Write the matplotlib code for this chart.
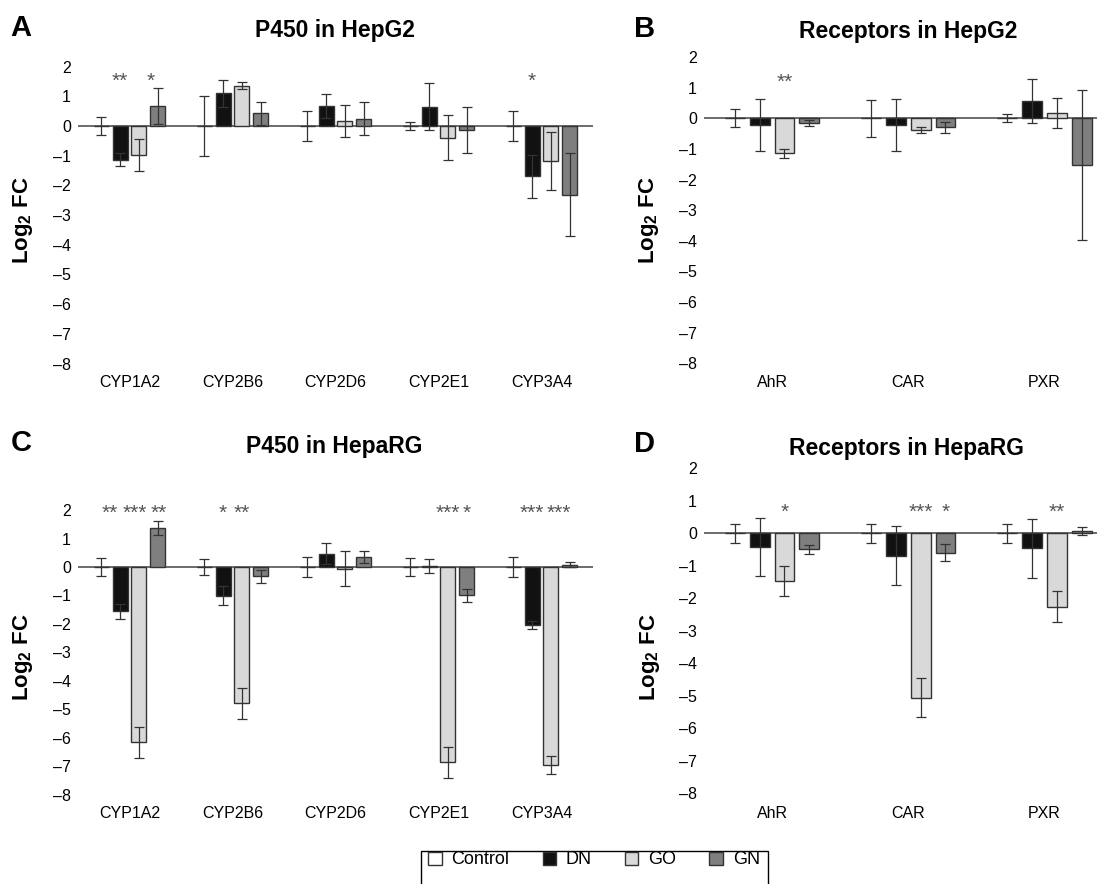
import numpy as np
import matplotlib
matplotlib.use("Agg")
import matplotlib.pyplot as plt
from matplotlib.patches import Patch, Rectangle

plt.rcParams['font.family'] = ['Liberation Sans', 'DejaVu Sans']
plt.rcParams['mathtext.fontset'] = 'custom'
plt.rcParams['mathtext.rm'] = 'Liberation Sans'
plt.rcParams['mathtext.bf'] = 'Liberation Sans:bold'

# categories and series
p450 = ['CYP1A2', 'CYP2B6', 'CYP2D6', 'CYP2E1', 'CYP3A4']
receptors = ['AhR', 'CAR', 'PXR']
series = ['Control', 'DN', 'GO', 'GN']
colors = ['#ffffff', '#111111', '#d9d9d9', '#7f7f7f']

# A : P450 in HepG2 (log2 FC, error)
a_ctrl_err = [0.30, 1.00, 0.52, 0.13, 0.51]
a_dn = [-1.14, 1.10, 0.68, 0.65, -1.70]
a_dn_err = [0.22, 0.45, 0.40, 0.80, 0.73]
a_go = [-0.98, 1.36, 0.17, -0.39, -1.19]
a_go_err = [0.55, 0.13, 0.54, 0.77, 0.98]
a_gn = [0.68, 0.43, 0.25, -0.13, -2.32]
a_gn_err = [0.60, 0.38, 0.56, 0.78, 1.40]

# B : receptors in HepG2
b_ctrl_err = [0.29, 0.61, 0.13]
b_dn = [-0.23, -0.23, 0.57]
b_dn_err = [0.85, 0.85, 0.72]
b_go = [-1.14, -0.38, 0.16]
b_go_err = [0.14, 0.11, 0.49]
b_gn = [-0.15, -0.29, -1.52]
b_gn_err = [0.10, 0.18, 2.45]

# C : P450 in HepaRG
c_ctrl_err = [0.32, 0.28, 0.34, 0.32, 0.35]
c_dn = [-1.55, -1.01, 0.46, 0.03, -2.05]
c_dn_err = [0.26, 0.33, 0.37, 0.24, 0.14]
c_go = [-6.15, -4.78, -0.06, -6.85, -6.95]
c_go_err = [0.54, 0.54, 0.61, 0.54, 0.32]
c_gn = [1.38, -0.32, 0.35, -0.99, 0.08]
c_gn_err = [0.25, 0.23, 0.22, 0.23, 0.08]

# D : receptors in HepaRG
d_ctrl_err = [0.30, 0.30, 0.29]
d_dn = [-0.42, -0.68, -0.46]
d_dn_err = [0.90, 0.92, 0.92]
d_go = [-1.46, -5.05, -2.25]
d_go_err = [0.47, 0.60, 0.48]
d_gn = [-0.49, -0.59, 0.08]
d_gn_err = [0.14, 0.26, 0.13]

# significance marks : (category, series, text, nudge in bar slots)
a_stars = [(0, 1, '**', 0), (0, 3, '*', -0.35), (4, 1, '*', 0)]
b_stars = [(0, 2, '**', 0)]
c_stars = [(0, 1, '**', -0.55), (0, 2, '***', -0.2), (0, 3, '**', 0.05),
           (1, 1, '*', 0), (1, 2, '**', 0),
           (3, 2, '***', 0), (3, 3, '*', 0),
           (4, 1, '***', 0), (4, 2, '***', 0.4)]
d_stars = [(0, 2, '*', 0), (1, 2, '***', 0), (1, 3, '*', 0), (2, 2, '**', 0)]

W, H = 1097, 884
SLOT = 0.182
BAR_W = 0.145

fig = plt.figure(figsize=(W / 100, H / 100), dpi=100)


def px_axes(x0, x1, y_top, y_bot):
    return fig.add_axes([x0 / W, 1 - y_bot / H, (x1 - x0) / W, (y_bot - y_top) / H])


def draw_panel(ax, cats, ctrl_err, dn, dn_err, go, go_err, gn, gn_err, stars, star_y):
    x = np.arange(len(cats))
    vals = [np.zeros(len(cats)), dn, go, gn]
    errs = [ctrl_err, dn_err, go_err, gn_err]
    ax.axhline(0, color='#444444', lw=1.1, zorder=1)
    for j in range(4):
        pos = x + (j - 1.5) * SLOT
        ax.bar(pos, vals[j], width=BAR_W, color=colors[j], edgecolor='#333333',
               linewidth=1.0, zorder=2)
        ax.errorbar(pos, vals[j], yerr=errs[j], fmt='none', ecolor='#333333',
                    elinewidth=0.9, capsize=3.5, capthick=0.9, zorder=3)
    # the asterisk glyph sits high, so anchor on the baseline and shift down
    for (i, j, txt, nudge) in stars:
        ax.annotate(txt, (i + (j - 1.5 + nudge) * SLOT, star_y), xytext=(0, -8.5),
                    textcoords='offset points', ha='center', va='baseline',
                    fontsize=15, color='#555555', annotation_clip=False)
    ax.set_xlim(-0.5, len(cats) - 0.5)
    ax.set_ylim(-8.25, 2.3)
    ax.set_xticks(x)
    ax.set_xticklabels(cats)
    ticks = list(range(-8, 3))
    ax.set_yticks(ticks)
    ax.set_yticklabels([str(t).replace('-', '\u2013') for t in ticks])
    ax.tick_params(axis='y', length=0, pad=5, labelsize=11.5)
    ax.tick_params(axis='x', length=0, pad=3, labelsize=11.5)
    for s in ax.spines.values():
        s.set_visible(False)


ax_a = px_axes(78, 593, 57.7, 371)
draw_panel(ax_a, p450, a_ctrl_err, a_dn, a_dn_err, a_go, a_go_err, a_gn, a_gn_err, a_stars, 1.72)
ax_b = px_axes(704, 1112.6, 47.9, 371)
draw_panel(ax_b, receptors, b_ctrl_err, b_dn, b_dn_err, b_go, b_go_err, b_gn, b_gn_err, b_stars, 1.38)
ax_c = px_axes(78, 593, 501.5, 802)
draw_panel(ax_c, p450, c_ctrl_err, c_dn, c_dn_err, c_go, c_go_err, c_gn, c_gn_err, c_stars, 2.1)
ax_d = px_axes(704, 1112.6, 458.75, 801.6)
draw_panel(ax_d, receptors, d_ctrl_err, d_dn, d_dn_err, d_go, d_go_err, d_gn, d_gn_err, d_stars, 0.85)

# titles, panel letters, y labels
for letter, lx, ly in [('A', 21, 28), ('B', 645, 29), ('C', 21, 443), ('D', 645, 444)]:
    fig.text(lx / W, 1 - ly / H, letter, ha='center', va='center', fontsize=21, fontweight='bold')
for title, tx, ty in [('P450 in HepG2', 335, 31), ('Receptors in HepG2', 908, 31.5),
                      ('P450 in HepaRG', 334, 447), ('Receptors in HepaRG', 906, 449)]:
    fig.text(tx / W, 1 - ty / H, title, ha='center', va='center', fontsize=16.5, fontweight='bold')
for yx, yy in [(23, 220), (649, 220), (23, 657), (650, 657)]:
    fig.text(yx / W, 1 - yy / H, r'Log$_\mathbf{2}$ FC', ha='center', va='center',
             rotation=90, fontsize=16, fontweight='bold')

# legend with a square frame running off the bottom edge
handles = [Patch(facecolor=c, edgecolor='#333333', linewidth=1.0) for c in colors]
fig.legend(handles, series, loc='center', bbox_to_anchor=(594 / W, 1 - 860 / H), ncol=4,
           frameon=False, fontsize=13, handlelength=0.74, handleheight=0.74,
           handletextpad=0.55, columnspacing=1.83, borderpad=0)
fig.patches.append(Rectangle((420.7 / W, 1 - 895 / H), (767.7 - 420.7) / W, (895 - 850.7) / H,
                             transform=fig.transFigure, fill=False, edgecolor='black', linewidth=1.0))

fig.savefig('out.png', dpi=100)
